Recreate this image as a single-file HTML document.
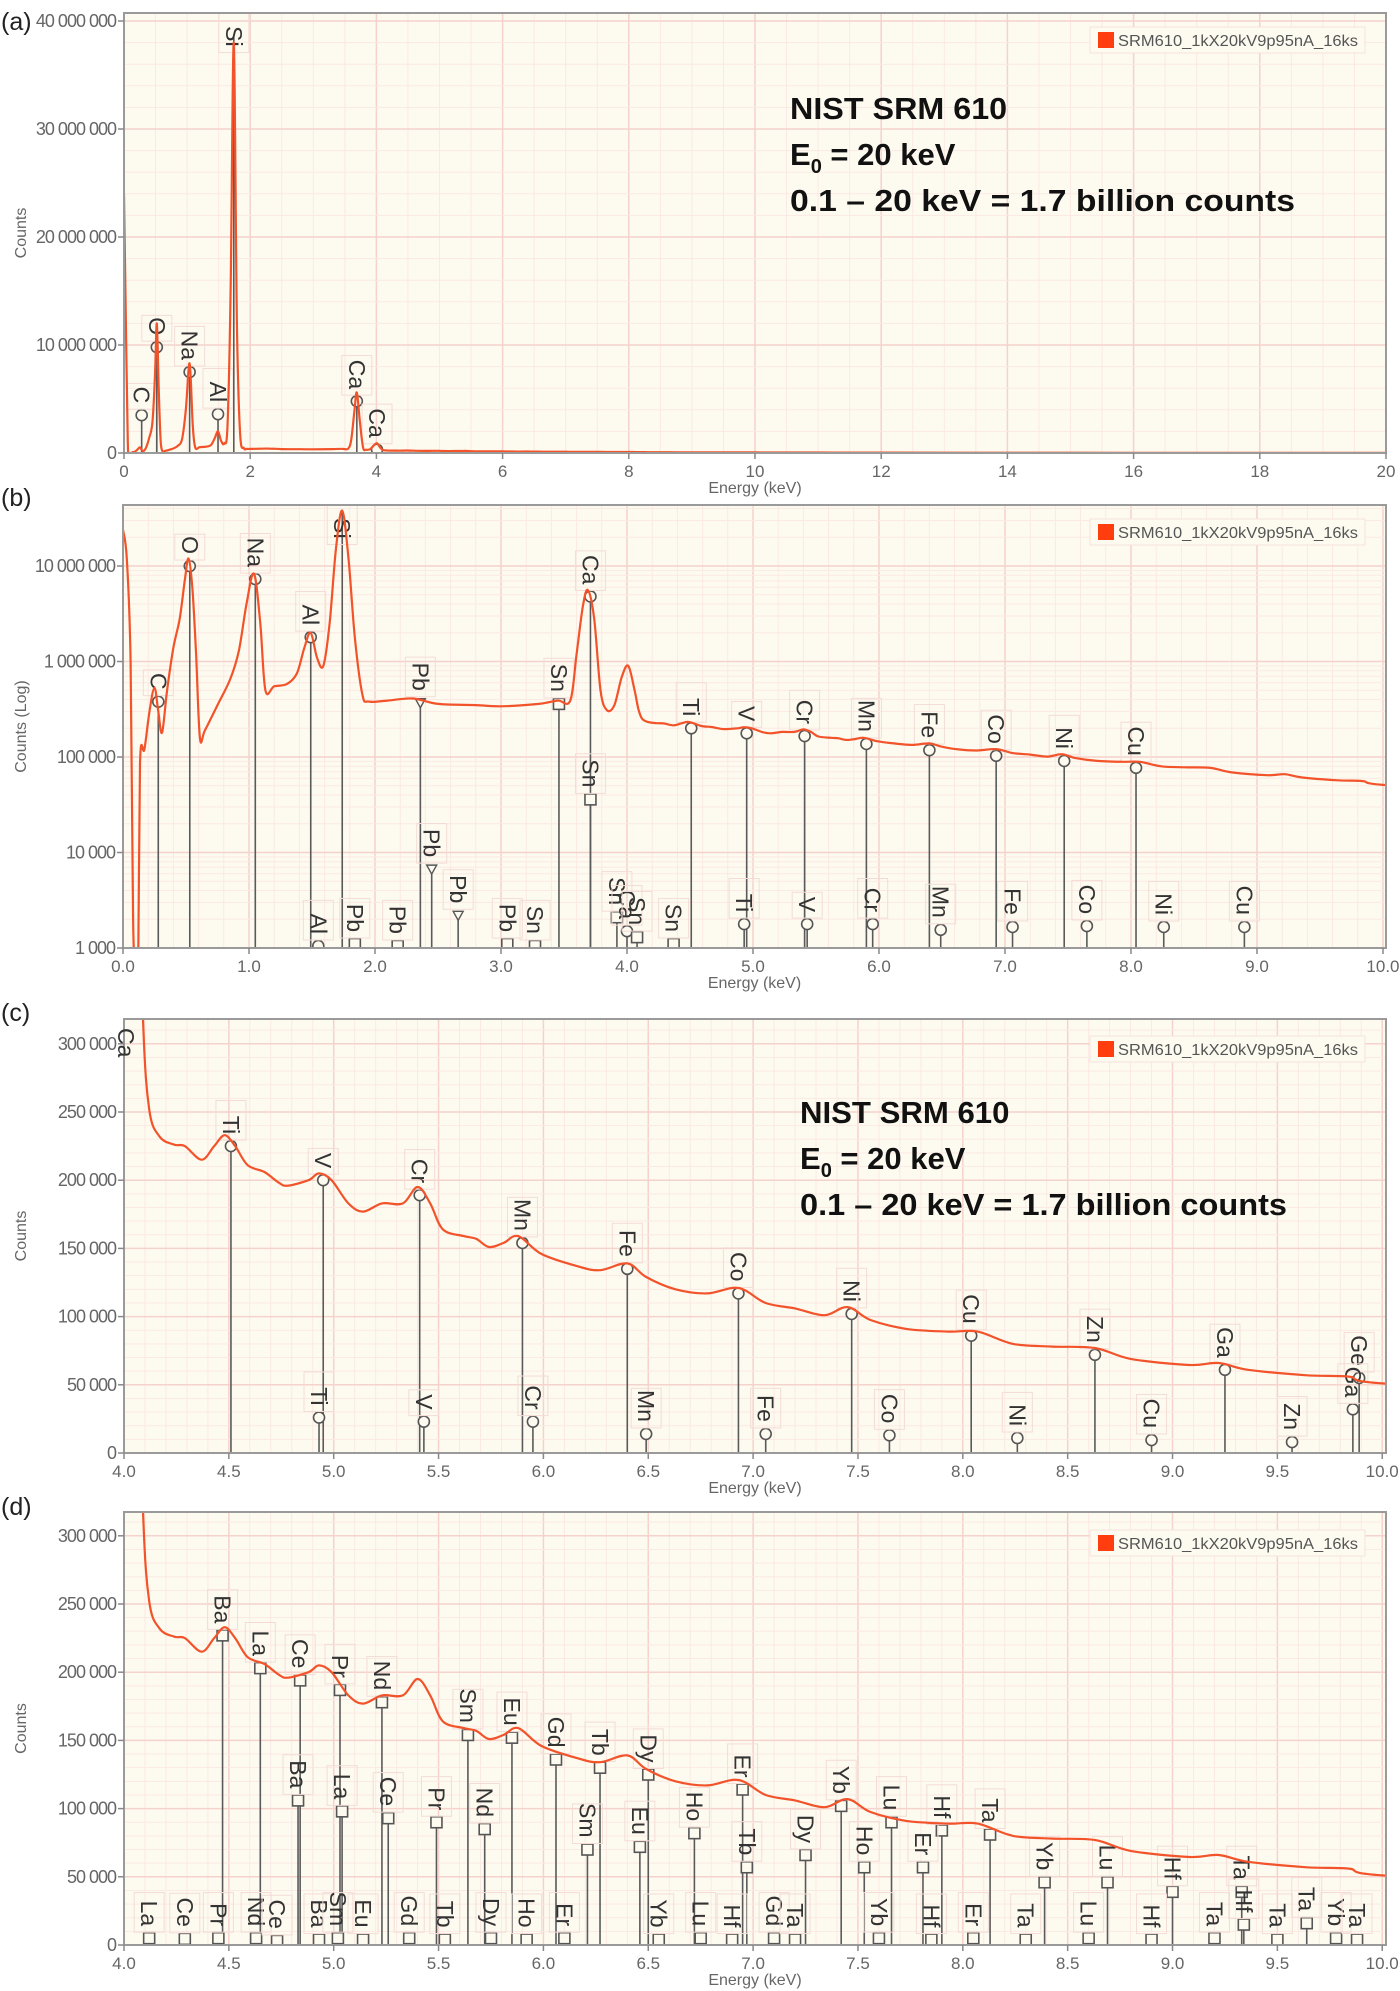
<!DOCTYPE html>
<html><head><meta charset="utf-8"><title>NIST SRM 610 EDS spectra</title>
<style>
html,body{margin:0;padding:0;background:#fff;}
svg{display:block;font-family:"Liberation Sans",Arial,sans-serif;}
</style></head>
<body>
<svg id="chart" width="1400" height="1991" viewBox="0 0 1400 1991" xmlns="http://www.w3.org/2000/svg"></svg>
<script>
// ---------- DATA ----------
const specE = [0,0.03,0.06,0.08,0.10,0.12,0.135,0.17,0.21,0.25,0.28,0.31,0.35,0.40,0.45,0.49,0.52,0.55,0.58,0.61,0.65,0.75,0.85,0.92,0.98,1.04,1.09,1.13,1.2,1.3,1.38,1.44,1.49,1.54,1.59,1.64,1.69,1.74,1.79,1.84,1.90,1.95,2.1,2.3,2.5,2.8,3.0,3.3,3.45,3.55,3.6,3.65,3.69,3.74,3.79,3.84,3.9,3.96,4.01,4.06,4.09,4.12,4.17,4.24,4.29,4.37,4.43,4.48,4.53,4.59,4.67,4.74,4.78,4.88,4.93,4.99,5.07,5.14,5.23,5.33,5.40,5.46,5.52,5.62,5.68,5.74,5.81,5.88,5.99,6.16,6.27,6.40,6.49,6.63,6.78,6.93,7.06,7.20,7.34,7.45,7.56,7.73,7.93,8.07,8.24,8.43,8.63,8.80,9.08,9.22,9.36,9.64,9.84,10.0,11,12,14,16,18,20];
const specC = [2.4e7,1.2e7,1e6,2e3,500,500,8.5e4,1.2e5,3e5,5.3e5,3e5,1.8e5,5e5,1.4e6,2.8e6,7e6,1.2e7,6e6,1.2e6,1.6e5,1.9e5,3.5e5,6.5e5,1.3e6,4e6,8.3e6,2.5e6,5e5,5.5e5,5.8e5,7.5e5,1.4e6,2e6,1.1e6,9e5,2.5e6,1.5e7,3.8e7,1.2e7,1.8e6,4.5e5,3.8e5,3.9e5,4.1e5,3.6e5,3.5e5,3.4e5,3.6e5,3.9e5,3.9e5,1.2e6,3.8e6,5.6e6,2.8e6,5e5,3.1e5,3.5e5,7e5,9e5,5e5,3.2e5,2.52e5,2.32e5,2.26e5,2.25e5,2.15e5,2.25e5,2.33e5,2.25e5,2.11e5,2.06e5,1.98e5,1.96e5,2.0e5,2.05e5,2.0e5,1.83e5,1.77e5,1.83e5,1.83e5,1.95e5,1.83e5,1.64e5,1.59e5,1.57e5,1.51e5,1.54e5,1.59e5,1.46e5,1.37e5,1.34e5,1.39e5,1.29e5,1.20e5,1.17e5,1.21e5,1.10e5,1.06e5,1.01e5,1.07e5,9.75e4,9.1e4,8.9e4,8.9e4,8.0e4,7.8e4,7.7e4,6.9e4,6.45e4,6.6e4,6.1e4,5.7e4,5.6e4,5.1e4,4.2e4,3.5e4,2.6e4,1.9e4,1.3e4,8e3];

const aMarkE = [0.28,0.52,1.04,1.49,1.74,3.69,4.01];
const aMarkC = [3.5e6,9.8e6,7.5e6,3.6e6,38.5e6,4.8e6,0.3e6];
const aMarkL = ['C','O','Na','Al','Si','Ca','Ca'];
const aMarkS = ['c','c','c','c','n','c','c'];

const bMarkE = [0.28,0.53,1.05,1.49,1.74,2.36,3.46,3.71,3.71,2.45,2.66,4.51,4.95,5.41,5.90,6.40,6.93,7.47,8.04,4.93,5.43,5.95,6.49,7.06,7.65,8.26,8.90,1.55,1.84,2.18,3.05,3.27,3.92,4.00,4.08,4.37];
const bMarkC = [3.8e5,1e7,7.3e6,1.8e6,3.9e7,3.7e5,3.6e5,4.8e6,3.6e4,6.7e3,2.2e3,2.0e5,1.77e5,1.66e5,1.37e5,1.18e5,1.03e5,9.1e4,7.7e4,1.78e3,1.78e3,1.78e3,1.55e3,1.66e3,1.7e3,1.66e3,1.66e3,1050,1100,1050,1100,1050,2100,1500,1300,1100];
const bMarkL = ['C','O','Na','Al','Si','Pb','Sn','Ca','Sn','Pb','Pb','Ti','V','Cr','Mn','Fe','Co','Ni','Cu','Ti','V','Cr','Mn','Fe','Co','Ni','Cu','Al','Pb','Pb','Pb','Sn','Sn','Ca','Sn','Sn'];
const bMarkS = ['c','c','c','c','n','t','s','c','s','t','t','c','c','c','c','c','c','c','c','c','c','c','c','c','c','c','c','c','s','s','s','s','s','c','s','s'];

const cMarkE = [4.51,4.95,5.41,5.90,6.40,6.93,7.47,8.04,8.63,9.25,9.89,4.93,5.43,5.95,6.49,7.06,7.65,8.26,8.90,9.57,9.86];
const cMarkC = [2.25e5,2.0e5,1.89e5,1.54e5,1.35e5,1.17e5,1.02e5,8.6e4,7.2e4,6.1e4,5.5e4,2.6e4,2.3e4,2.3e4,1.4e4,1.4e4,1.3e4,1.1e4,9.5e3,8e3,3.2e4];
const cMarkL = ['Ti','V','Cr','Mn','Fe','Co','Ni','Cu','Zn','Ga','Ge','Ti','V','Cr','Mn','Fe','Co','Ni','Cu','Zn','Ga'];

const dMarkE = [4.47,4.65,4.84,5.03,5.23,5.64,5.85,6.06,6.27,6.50,6.72,6.95,7.42,7.66,7.90,8.13,4.83,5.04,5.26,5.49,5.72,6.21,6.46,6.97,7.25,7.53,7.81,8.39,8.69,9.00,9.33,9.34,9.64,4.12,4.29,4.45,4.63,4.73,4.93,5.02,5.14,5.36,5.53,5.75,5.92,6.10,6.55,6.75,6.90,7.10,7.20,7.60,7.85,8.05,8.30,8.60,8.90,9.20,9.50,9.78,9.88];
const dMarkC = [2.27e5,2.03e5,1.94e5,1.87e5,1.78e5,1.54e5,1.52e5,1.36e5,1.30e5,1.25e5,8.2e4,1.14e5,1.02e5,9.0e4,8.4e4,8.1e4,1.06e5,9.8e4,9.3e4,9.0e4,8.5e4,7.0e4,7.2e4,5.7e4,6.6e4,5.7e4,5.7e4,4.6e4,4.6e4,3.9e4,3.9e4,1.5e4,1.6e4,5e3,4.5e3,5e3,5e3,3e3,4e3,5e3,4e3,5e3,4e3,5e3,4e3,5e3,4e3,5e3,4e3,5e3,4e3,5e3,4e3,5e3,4e3,5e3,4e3,5e3,4e3,5e3,4e3];
const dMarkL = ['Ba','La','Ce','Pr','Nd','Sm','Eu','Gd','Tb','Dy','Ho','Er','Yb','Lu','Hf','Ta','Ba','La','Ce','Pr','Nd','Sm','Eu','Tb','Dy','Ho','Er','Yb','Lu','Hf','Ta','Hf','Ta','La','Ce','Pr','Nd','Ce','Ba','Sm','Eu','Gd','Tb','Dy','Ho','Er','Yb','Lu','Hf','Gd','Ta','Yb','Hf','Er','Ta','Lu','Hf','Ta','Ta','Yb','Ta'];

const aXTicks = [0,2,4,6,8,10,12,14,16,18,20];
const aXLabels = ['0','2','4','6','8','10','12','14','16','18','20'];
const aYTicks = [0,1e7,2e7,3e7,4e7];
const aYLabels = ['0','10 000 000','20 000 000','30 000 000','40 000 000'];
const bXTicks = [0,1,2,3,4,5,6,7,8,9,10];
const bXLabels = ['0.0','1.0','2.0','3.0','4.0','5.0','6.0','7.0','8.0','9.0','10.0'];
const bYTicks = [1e3,1e4,1e5,1e6,1e7];
const bYLabels = ['1 000','10 000','100 000','1 000 000','10 000 000'];
const cdXTicks = [4,4.5,5,5.5,6,6.5,7,7.5,8,8.5,9,9.5,10];
const cdXLabels = ['4.0','4.5','5.0','5.5','6.0','6.5','7.0','7.5','8.0','8.5','9.0','9.5','10.0'];
const cdYTicks = [0,50000,100000,150000,200000,250000,300000];
const cdYLabels = ['0','50 000','100 000','150 000','200 000','250 000','300 000'];

// ---------- DRAWING ----------
const NS='http://www.w3.org/2000/svg';
const svg=document.getElementById('chart');
function mk(tag,attrs,parent){const e=document.createElementNS(NS,tag);for(const k in attrs)e.setAttribute(k,attrs[k]);(parent||svg).appendChild(e);return e;}

const panels = {
  a:{L:124,T:13,R:1386,B:453,x0:0,x1:20,log:false,y0:0,y1:40.74e6,gxMaj:2,gxMin:0.5,gyMaj:1e7,gyMin:2e6,lab:'(a)',labY:30,title:'Counts',xT:aXTicks,xL:aXLabels,yT:aYTicks,yL:aYLabels,legY:32},
  b:{L:123,T:505,R:1386,B:948,x0:0,x1:10.024,log:true,y0:3,y1:7.639,gxMaj:1,gxMin:0.2,lab:'(b)',labY:506,title:'Counts (Log)',xT:bXTicks,xL:bXLabels,yT:bYTicks,yL:bYLabels,legY:524},
  c:{L:124,T:1019,R:1386,B:1453,x0:4,x1:10.018,log:false,y0:0,y1:318182,gxMaj:0.5,gxMin:0.1,gyMaj:50000,gyMin:10000,lab:'(c)',labY:1021,title:'Counts',xT:cdXTicks,xL:cdXLabels,yT:cdYTicks,yL:cdYLabels,legY:1041},
  d:{L:124,T:1512,R:1386,B:1945,x0:4,x1:10.018,log:false,y0:0,y1:317448,gxMaj:0.5,gxMin:0.1,gyMaj:50000,gyMin:10000,lab:'(d)',labY:1515,title:'Counts',xT:cdXTicks,xL:cdXLabels,yT:cdYTicks,yL:cdYLabels,legY:1535}
};
function sx(p,e){return p.L+(e-p.x0)/(p.x1-p.x0)*(p.R-p.L);}
function sy(p,c){
  if(p.log){const v=Math.log10(Math.max(c,10));return p.B-(v-p.y0)/(p.y1-p.y0)*(p.B-p.T);}
  return p.B-(c-p.y0)/(p.y1-p.y0)*(p.B-p.T);
}
function crPath(pts){
  if(!pts.length)return '';
  let d='M'+pts[0][0].toFixed(1)+','+pts[0][1].toFixed(1);
  for(let i=0;i<pts.length-1;i++){
    const p0=pts[i-1]||pts[i],p1=pts[i],p2=pts[i+1],p3=pts[i+2]||p2;
    const c1x=p1[0]+(p2[0]-p0[0])/6,c1y=p1[1]+(p2[1]-p0[1])/6;
    const c2x=p2[0]-(p3[0]-p1[0])/6,c2y=p2[1]-(p3[1]-p1[1])/6;
    d+=' C'+c1x.toFixed(1)+','+c1y.toFixed(1)+' '+c2x.toFixed(1)+','+c2y.toFixed(1)+' '+p2[0].toFixed(1)+','+p2[1].toFixed(1);
  }
  return d;
}

function drawPanel(key, mE, mC, mL, mS){
  const p=panels[key];
  const g=mk('g',{});
  
  
  const bg=mk('rect',{x:p.L,y:p.T,width:p.R-p.L,height:p.B-p.T,fill:'#fdfbf0'},g);
  
  
  const clip=mk('clipPath',{id:'clip'+key},g);
  mk('rect',{x:p.L,y:p.T,width:p.R-p.L,height:p.B-p.T},clip);
  const grid=mk('g',{},g);
  
  
  for(let e=p.x0;e<=p.x1+1e-6;e+=p.gxMin){
    const isMaj=Math.abs(e/p.gxMaj-Math.round(e/p.gxMaj))<1e-6;
    const x=sx(p,e);
    mk('line',{x1:x,x2:x,y1:p.T,y2:p.B,stroke:isMaj?'#f5d2cc':'#fbe9e3','stroke-width':isMaj?1.5:1},grid);
  }
  if(p.log){
    for(let dcd=3;dcd<8;dcd++){
      for(let m=1;m<10;m++){
        const v=m*Math.pow(10,dcd);const y=sy(p,v);
        if(y<p.T)continue;
        mk('line',{x1:p.L,x2:p.R,y1:y,y2:y,stroke:m===1?'#f5d2cc':'#fbe9e3','stroke-width':m===1?1.5:1},grid);
      }
    }
  } else {
    for(let v=p.y0;v<=p.y1;v+=p.gyMin){
      const isMaj=Math.abs(v/p.gyMaj-Math.round(v/p.gyMaj))<1e-6;
      const y=sy(p,v);
      mk('line',{x1:p.L,x2:p.R,y1:y,y2:y,stroke:isMaj?'#f5d2cc':'#fbe9e3','stroke-width':isMaj?1.5:1},grid);
    }
  }
  const mg=mk('g',{'clip-path':'url(#clip'+key+')'},g);
  
  
  for(let i=0;i<mE.length;i++){
    const x=sx(p,mE[i]);let y=sy(p,mC[i]);
    if(y<p.T+4)y=p.T+4;
    const line=mk('line',{x1:x,x2:x,y1:y,y2:p.B,stroke:'#5a5a5a','stroke-width':1.6},mg);
    
    
    const shp=mS?mS[i]:(key==='d'?'s':'c');
    let m=null;
    if(shp==='c') m=mk('circle',{cx:x,cy:y,r:5.5,fill:'#fdfbf0',stroke:'#555','stroke-width':1.6},mg);
    else if(shp==='s') m=mk('rect',{x:x-5.5,y:y-5.5,width:11,height:11,fill:'#fdfbf0',stroke:'#555','stroke-width':1.6},mg);
    else if(shp==='t') m=mk('path',{d:'M'+(x-5)+','+(y-4)+' L'+(x+5)+','+(y-4)+' L'+x+','+(y+5)+' Z',fill:'#fdfbf0',stroke:'#555','stroke-width':1.4},mg);
    if(m){
      
      
    }
    const fs=23;
    const len=mL[i].length*fs*0.6;
    let endY=y-12;
    if(endY-len<p.T+6) endY=p.T+6+len;
    const box=mk('rect',{x:x-15,y:endY-len-6,width:30,height:len+12,fill:'none',stroke:'#f3dcd6','stroke-width':1},mg);
    
    
    const t=mk('text',{x:0,y:0,'font-size':fs,fill:'#333','text-anchor':'end',transform:'translate('+(x-8)+','+endY+') rotate(90)'},mg);
    t.textContent=mL[i];
    
    
  }
  const pts=[];
  for(let i=0;i<specE.length;i++){
    const e=specE[i];
    if(e<p.x0-0.2||e>p.x1+1.2)continue;
    pts.push([sx(p,e),sy(p,specC[i])]);
  }
  const path=mk('path',{d:crPath(pts),fill:'none',stroke:'#f2532a','stroke-width':2.2,'clip-path':'url(#clip'+key+')'},g);
  
  
  const fr=mk('rect',{x:p.L,y:p.T,width:p.R-p.L,height:p.B-p.T,fill:'none',stroke:'#9a9a9a','stroke-width':2},g);
  
  
  const xa=mk('g',{},g);
  
  
  for(let i=0;i<p.xT.length;i++){
    const x=sx(p,p.xT[i]);
    mk('line',{x1:x,x2:x,y1:p.B,y2:p.B+6,stroke:'#888','stroke-width':1.5},xa);
    const t=mk('text',{x:x,y:p.B+24,'font-size':17,fill:'#666','text-anchor':'middle'},xa);
    t.textContent=p.xL[i];
    
    
  }
  const xt=mk('text',{x:(p.L+p.R)/2,y:p.B+40,'font-size':16,fill:'#666','text-anchor':'middle'},xa);
  xt.textContent='Energy (keV)';
  
  
  const ya=mk('g',{},g);
  
  
  for(let i=0;i<p.yT.length;i++){
    const y=sy(p,p.yT[i]);
    mk('line',{x1:p.L-6,x2:p.L,y1:y,y2:y,stroke:'#888','stroke-width':1.5},ya);
    const t=mk('text',{x:p.L-8,y:y+6,'font-size':18,fill:'#666','text-anchor':'end','letter-spacing':'-1'},ya);
    t.textContent=p.yL[i];
    
    
  }
  const yt=mk('text',{x:0,y:0,'font-size':16,fill:'#666','text-anchor':'middle',transform:'translate(26,'+((p.T+p.B)/2)+') rotate(-90)'},ya);
  yt.textContent=p.title;
  
  
  const pl=mk('text',{x:1,y:p.labY,'font-size':25,fill:'#222'},g);
  pl.textContent=p.lab;
  
  
  const lg=mk('g',{},g);
  
  
  mk('rect',{x:1090,y:p.legY-5,width:275,height:26,fill:'#fdfbf0',stroke:'#f5e3de','stroke-width':1},lg);
  const sw=mk('rect',{x:1098,y:p.legY,width:16,height:16,fill:'#ff3d0f'},lg);
  
  
  const lt=mk('text',{x:1118,y:p.legY+14,'font-size':16,fill:'#555',textLength:240,lengthAdjust:'spacingAndGlyphs'},lg);
  lt.textContent='SRM610_1kX20kV9p95nA_16ks';
  
  
}

function drawNote(x,y0,w,name){
  const g=mk('g',{'font-weight':'bold',fill:'#111'});
  
  
  const t1=mk('text',{x:x,y:y0,'font-size':31,textLength:w*0.43,lengthAdjust:'spacingAndGlyphs'},g);
  t1.textContent='NIST SRM 610';
  const t2=mk('text',{x:x,y:y0+46,'font-size':31},g);
  const a=mk('tspan',{},t2);a.textContent='E';
  const b=mk('tspan',{'font-size':20,dy:8},t2);b.textContent='0';
  const c=mk('tspan',{dy:-8},t2);c.textContent=' = 20 keV';
  const t3=mk('text',{x:x,y:y0+92,'font-size':31,textLength:w,lengthAdjust:'spacingAndGlyphs'},g);
  t3.textContent='0.1 \u2013 20 keV = 1.7 billion counts';
}

drawPanel('a',aMarkE,aMarkC,aMarkL,aMarkS);
drawPanel('b',bMarkE,bMarkC,bMarkL,bMarkS);
drawPanel('c',cMarkE,cMarkC,cMarkL,null);
drawPanel('d',dMarkE,dMarkC,dMarkL,null);
const caLab=mk('text',{x:0,y:0,'font-size':23,fill:'#333',transform:'translate(118,1028) rotate(90)'});
caLab.textContent='Ca';


drawNote(790,119,505,'annotation-a');
drawNote(800,1123,487,'annotation-c');
</script>
</body></html>
